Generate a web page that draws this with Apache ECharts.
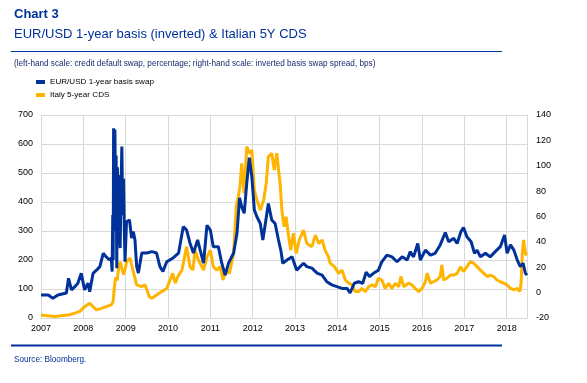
<!DOCTYPE html>
<html><head><meta charset="utf-8">
<script src="https://cdn.jsdelivr.net/npm/echarts@6/dist/echarts.min.js"></script>
<style>html,body{margin:0;padding:0;background:#fff}#c{width:587px;height:383px}</style>
</head><body><div id="c"></div>
<script>
// x tick labels (years)
const yearTicks = [2007,2008,2009,2010,2011,2012,2013,2014,2015,2016,2017,2018];
const leftTicks = [0,100,200,300,400,500,600,700];
const rightTicks = [-20,0,20,40,60,80,100,120,140];

// EUR/USD 1-year basis swap (inverted, bps, right-hand scale)
const basisDates = [2007.0,2007.17,2007.28,2007.4,2007.6,2007.65,2007.72,2007.8,2007.87,2007.95,2008.03,2008.11,2008.15,2008.23,2008.31,2008.39,2008.47,2008.54,2008.62,2008.66,2008.68,2008.695,2008.705,2008.715,2008.73,2008.745,2008.76,2008.775,2008.79,2008.805,2008.82,2008.835,2008.85,2008.87,2008.89,2008.91,2008.93,2008.95,2008.97,2008.985,2009.02,2009.09,2009.14,2009.18,2009.22,2009.26,2009.3,2009.38,2009.5,2009.62,2009.73,2009.81,2009.88,2009.97,2010.12,2010.25,2010.36,2010.44,2010.52,2010.6,2010.7,2010.76,2010.84,2010.92,2011.0,2011.07,2011.19,2011.27,2011.35,2011.43,2011.55,2011.63,2011.69,2011.74,2011.8,2011.86,2011.92,2011.98,2012.04,2012.1,2012.18,2012.24,2012.3,2012.37,2012.45,2012.53,2012.61,2012.67,2012.71,2012.81,2012.93,2013.04,2013.2,2013.28,2013.4,2013.52,2013.64,2013.75,2013.87,2013.99,2014.11,2014.23,2014.3,2014.4,2014.5,2014.6,2014.68,2014.76,2014.86,2014.97,2015.05,2015.17,2015.29,2015.41,2015.53,2015.65,2015.72,2015.8,2015.9,2015.96,2016.08,2016.2,2016.31,2016.43,2016.55,2016.63,2016.75,2016.83,2016.92,2016.98,2017.06,2017.16,2017.24,2017.3,2017.38,2017.5,2017.61,2017.73,2017.85,2017.95,2018.01,2018.09,2018.17,2018.25,2018.32,2018.39,2018.44,2018.48];
const basisValues = [-1.9,-1.9,-4.5,-1.9,-0.3,11.3,2.2,4.7,7.4,15.2,2.2,7.4,0.8,15.2,17.7,20.5,31.0,28.2,25.7,27.3,16.6,61.1,25.7,129.5,48.6,128.6,82.9,108.0,19.3,98.9,55.4,92.7,48.6,35.1,82.9,115.1,61.1,89.7,45.4,24.3,55.9,57.3,42.9,48.1,41.5,20.5,15.4,31.2,31.2,32.3,31.2,20.5,16.6,24.3,27.3,31.2,52.0,49.3,39.0,31.2,41.5,33.5,23.2,53.1,49.3,36.2,36.2,23.2,13.8,23.2,31.2,47.0,74.6,67.8,62.5,86.1,106.4,91.3,65.0,59.8,54.5,41.5,54.5,70.3,57.3,54.5,41.5,32.6,23.2,25.7,28.2,17.7,23.2,20.5,19.3,15.4,13.8,8.6,6.1,4.7,3.3,3.3,-0.3,7.4,8.6,7.4,16.1,12.7,15.4,17.7,24.3,29.6,28.2,24.3,28.2,25.7,32.3,28.2,38.7,25.7,33.5,29.6,31.0,37.6,47.4,40.1,42.9,38.7,48.1,51.3,44.0,40.1,31.0,33.5,28.2,31.0,28.2,32.3,36.2,45.4,31.0,37.6,33.5,25.7,20.5,23.2,15.4,13.8];

// Italy 5-year CDS (bps, left-hand scale)
const cdsDates = [2007.0,2007.32,2007.64,2007.8,2007.91,2008.03,2008.15,2008.23,2008.31,2008.43,2008.54,2008.66,2008.7,2008.73,2008.76,2008.8,2008.84,2008.87,2008.91,2008.95,2008.99,2009.02,2009.1,2009.18,2009.26,2009.3,2009.38,2009.46,2009.56,2009.62,2009.73,2009.85,2009.97,2010.05,2010.11,2010.17,2010.25,2010.33,2010.44,2010.52,2010.59,2010.64,2010.72,2010.8,2010.84,2010.92,2011.0,2011.07,2011.15,2011.23,2011.3,2011.37,2011.45,2011.55,2011.61,2011.66,2011.7,2011.74,2011.8,2011.86,2011.92,2011.98,2012.04,2012.1,2012.18,2012.26,2012.32,2012.37,2012.45,2012.51,2012.57,2012.65,2012.69,2012.74,2012.79,2012.85,2012.9,2012.96,2013.03,2013.1,2013.2,2013.28,2013.4,2013.48,2013.56,2013.64,2013.71,2013.79,2013.83,2013.93,2014.03,2014.11,2014.19,2014.27,2014.35,2014.42,2014.5,2014.58,2014.66,2014.74,2014.82,2014.9,2014.97,2015.05,2015.13,2015.21,2015.29,2015.37,2015.45,2015.5,2015.57,2015.68,2015.76,2015.84,2015.92,2016.0,2016.08,2016.12,2016.2,2016.27,2016.35,2016.43,2016.47,2016.51,2016.59,2016.67,2016.75,2016.83,2016.91,2016.98,2017.06,2017.14,2017.22,2017.3,2017.38,2017.46,2017.54,2017.61,2017.69,2017.77,2017.85,2017.93,2018.01,2018.09,2018.17,2018.25,2018.31,2018.34,2018.37,2018.4,2018.43,2018.46];
const cdsValues = [10,5,10,17,22,39,51,39,28,33,39,45,55,100,140,130,180,194,170,150,170,194,207,160,114,120,108,114,73,68,79,91,102,131,154,120,148,165,246,177,165,234,200,177,165,211,234,177,165,177,131,165,154,223,384,418,453,533,430,591,568,579,441,407,372,407,464,556,568,510,568,460,372,315,349,280,234,292,223,269,303,257,246,286,257,269,234,211,189,177,154,165,131,120,114,91,91,102,91,108,114,108,137,131,102,120,102,120,108,143,108,120,114,102,91,102,125,154,120,125,131,143,183,131,137,148,148,154,177,160,177,194,189,177,165,154,143,148,143,131,125,120,114,102,97,102,91,120,223,269,234,215];

const BLUE = '#003299', YELLOW = '#FFB400';
const FONT = 'Liberation Sans, Arial, sans-serif';
const pair = (xs, ys) => xs.map((x, i) => [x, ys[i]]);

const chart = echarts.init(document.getElementById('c'), null, {renderer: 'canvas'});
chart.setOption({
  animation: false,
  backgroundColor: '#fff',
  textStyle: {fontFamily: FONT},
  graphic: [
    {type: 'text', left: 14, top: 8, style: {text: 'Chart 3', font: 'bold 13px ' + FONT, fill: BLUE}},
    {type: 'text', left: 14, top: 28, style: {text: 'EUR/USD 1-year basis (inverted) & Italian 5Y CDS', font: '13px ' + FONT, fill: BLUE}},
    {type: 'line', shape: {x1: 11, y1: 51.5, x2: 502, y2: 51.5}, style: {stroke: BLUE, lineWidth: 1}},
    {type: 'text', left: 14, top: 60, style: {text: '(left-hand scale: credit default swap, percentage; right-hand scale: inverted basis swap spread, bps)', font: '8.2px ' + FONT, fill: '#1a2a6c'}},
    {type: 'line', shape: {x1: 11, y1: 345.5, x2: 502, y2: 345.5}, style: {stroke: BLUE, lineWidth: 2}},
    {type: 'text', left: 14, top: 356, style: {text: 'Source: Bloomberg.', font: '8.2px ' + FONT, fill: BLUE}}
  ],
  legend: {
    orient: 'vertical', left: 36, top: 78, itemWidth: 9, itemHeight: 4, itemGap: 5,
    icon: 'rect', padding: 0,
    data: ['EUR/USD 1-year basis swap', 'Italy 5-year CDS'],
    textStyle: {fontSize: 8.1, color: '#000', fontFamily: FONT}
  },
  grid: {left: 41, right: 60, top: 115, bottom: 65, containLabel: false},
  xAxis: {
    type: 'value', min: yearTicks[0], max: 2018.48, interval: 1,
    axisLine: {show: true, lineStyle: {color: '#d9d9d9'}},
    axisTick: {show: false},
    splitLine: {show: true, lineStyle: {color: '#d9d9d9', width: 1}},
    axisLabel: {color: '#000', fontSize: 9, margin: 6, fontFamily: FONT,
      formatter: v => yearTicks.includes(Math.round(v * 1000) / 1000) ? String(v) : ''}
  },
  yAxis: [
    {type: 'value', min: leftTicks[0], max: leftTicks[leftTicks.length - 1], interval: 100,
      axisLine: {show: false}, axisTick: {show: false},
      splitLine: {show: true, lineStyle: {color: '#d9d9d9', width: 1}},
      axisLabel: {color: '#000', fontSize: 9, margin: 8, fontFamily: FONT}},
    {type: 'value', min: rightTicks[0], max: rightTicks[rightTicks.length - 1], interval: 20,
      position: 'right',
      axisLine: {show: true, lineStyle: {color: '#d9d9d9'}}, axisTick: {show: false},
      splitLine: {show: false},
      axisLabel: {color: '#000', fontSize: 9, margin: 9, fontFamily: FONT}}
  ],
  series: [
    {name: 'Italy 5-year CDS', type: 'line', yAxisIndex: 0, data: pair(cdsDates, cdsValues),
      showSymbol: false, symbol: 'none', lineStyle: {color: YELLOW, width: 3}, itemStyle: {color: YELLOW}},
    {name: 'EUR/USD 1-year basis swap', type: 'line', yAxisIndex: 1, data: pair(basisDates, basisValues),
      showSymbol: false, symbol: 'none', lineStyle: {color: BLUE, width: 3}, itemStyle: {color: BLUE}}
  ]
});
</script></body></html>
